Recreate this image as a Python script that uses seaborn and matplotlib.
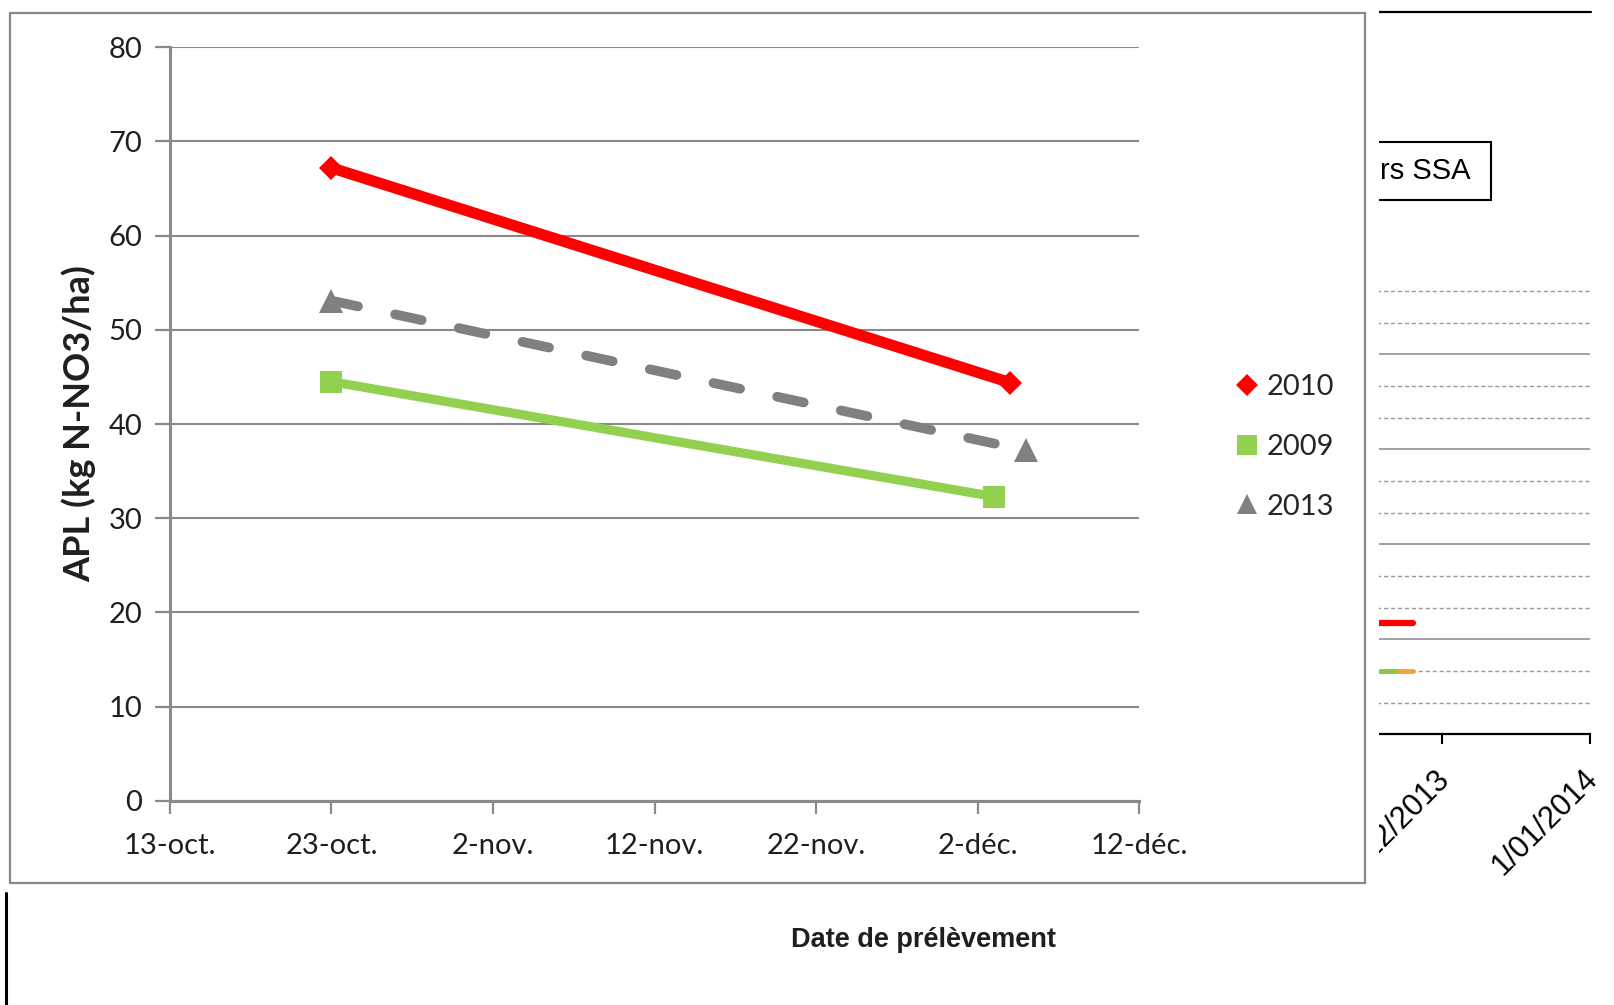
import numpy as np
import pandas as pd
import matplotlib
matplotlib.use("Agg")
import matplotlib.pyplot as plt
import matplotlib.transforms as mtransforms
from matplotlib.lines import Line2D
from matplotlib.patches import Rectangle
import seaborn as sns

# Residual soil nitrate (APL) per campaign, sampling day as month-day
dates_2010 = ["10-23", "12-04"]
apl_2010 = [67.2, 44.4]
dates_2009 = ["10-23", "12-03"]
apl_2009 = [44.5, 32.3]
dates_2013 = ["10-23", "12-05"]
apl_2013 = [53.1, 37.2]
series_names = ["2010", "2009", "2013"]

x_tick_dates = ["10-13", "10-23", "11-02", "11-12", "11-22", "12-02", "12-12"]
x_tick_labels = ["13-oct.", "23-oct.", "2-nov.", "12-nov.", "22-nov.", "2-déc.", "12-déc."]
y_ticks = [0, 10, 20, 30, 40, 50, 60, 70, 80]

# Neighbouring panel (2013 season)
side_dates_red = ["2013-10-20", "2013-11-25"]
side_vals_red = [35, 35]
side_dates_green = ["2013-10-20", "2013-11-22"]
side_vals_green = [20, 20]
side_dates_orange = ["2013-11-22", "2013-11-25"]
side_vals_orange = [20, 20]
side_tick_dates = ["2013-12-01", "2014-01-01"]
side_tick_labels = ["1/12/2013", "1/01/2014"]
side_box_text = "rs SSA"

RED, GREEN, GREY = "#FF0000", "#92D050", "#808080"
GRID = "#8a8a8a"
TXT = "#1f1f1f"

sns.set_theme(style="white")
plt.rcParams["font.family"] = ["Lato", "DejaVu Sans"]

W, H = 1614, 1005
fig = plt.figure(figsize=(W / 100, H / 100), dpi=100)
fig.patch.set_facecolor("white")


def fx(px):
    return px / W


def fy(py):
    return 1 - py / H


def to_date(md):
    return pd.to_datetime(["2000-" + d for d in md])


# ---------------- neighbouring panel (mostly hidden) ----------------
ax2 = fig.add_axes([fx(1202.5), fy(734.3), fx(1590) - fx(1202.5), (734.3 - 281.5) / H], zorder=0)
ax2.set_xlim(pd.Timestamp("2013-10-12"), pd.Timestamp("2014-01-01"))
ax2.set_ylim(0, 143)
ax2.set_yticks([30, 60, 90, 120])
ax2.set_yticks([10, 20, 40, 50, 70, 80, 100, 110, 130, 140], minor=True)
ax2.grid(True, which="major", axis="y", color="#9a9a9a", lw=1.3, ls="-")
ax2.grid(True, which="minor", axis="y", color="#9a9a9a", lw=1.0, ls=(0, (3, 2)))
ax2.tick_params(axis="y", which="both", left=False, labelleft=False)
for s in ["left", "right", "top"]:
    ax2.spines[s].set_visible(False)
ax2.spines["bottom"].set_color("black")
ax2.spines["bottom"].set_linewidth(1.6)
sns.lineplot(x=pd.to_datetime(side_dates_red), y=side_vals_red, ax=ax2, color=RED, lw=4.5,
             solid_capstyle="round")
sns.lineplot(x=pd.to_datetime(side_dates_green), y=side_vals_green, ax=ax2, color="#8CC63F", lw=3.5)
sns.lineplot(x=pd.to_datetime(side_dates_orange), y=side_vals_orange, ax=ax2, color="#F7A03C", lw=3.5,
             solid_capstyle="round")
ax2.set_xticks(pd.to_datetime(side_tick_dates))
ax2.set_xticklabels(side_tick_labels)
ax2.tick_params(axis="x", direction="out", length=7, width=1.5, color="black", pad=14,
                labelsize=22, labelcolor="black", bottom=True)
shift = mtransforms.ScaledTranslation(-7 / 100, 0, fig.dpi_scale_trans)
for lbl in ax2.get_xticklabels():
    lbl.set_rotation(45)
    lbl.set_ha("right")
    lbl.set_va("top")
    lbl.set_rotation_mode("anchor")
    lbl.set_family(["Liberation Sans", "DejaVu Sans"])
    lbl.set_transform(lbl.get_transform() + shift)
ax2.set_xlabel("")
ax2.set_ylabel("")
ax2.patch.set_visible(False)

fig.add_artist(Rectangle((fx(1300), fy(200)), fx(1490.7) - fx(1300), (200 - 141.7) / H,
                         transform=fig.transFigure, fc="white", ec="black", lw=1.5, zorder=0.5))
fig.text(fx(1470), fy(171), side_box_text, ha="right", va="center", fontsize=21,
         family=["Liberation Sans", "DejaVu Sans"], color="black", zorder=0.6)
fig.add_artist(Line2D([fx(1379), fx(1591)], [fy(12.4), fy(12.4)], color="black", lw=1.6, zorder=0.5))

# white gap and frame of the main chart
fig.add_artist(Rectangle((fx(1340), 0), fx(1379) - fx(1340), 1, transform=fig.transFigure,
                         fc="white", ec="none", zorder=1))
fig.add_artist(Rectangle((fx(10.3), fy(883.1)), fx(1365) - fx(10.3), (883.1 - 13.4) / H,
                         transform=fig.transFigure, fc="white", ec=GRID, lw=1.6, zorder=1.1))

# ---------------- main chart ----------------
left, right, top, bottom = 169.8, 1139.4, 47.3, 800.8
ax = fig.add_axes([fx(left), fy(bottom), fx(right) - fx(left), (bottom - top) / H], zorder=2)
ax.patch.set_visible(False)

sns.lineplot(x=to_date(dates_2010), y=apl_2010, ax=ax, color=RED, lw=8.0,
             marker="D", markersize=12, markeredgewidth=0, markerfacecolor=RED)
sns.lineplot(x=to_date(dates_2009), y=apl_2009, ax=ax, color=GREEN, lw=6.6,
             marker="s", markersize=15.5, markeredgewidth=0, markerfacecolor=GREEN)
sns.lineplot(x=to_date(dates_2013), y=apl_2013, ax=ax, color=GREY, lw=7.0,
             marker="^", markersize=17, markeredgewidth=0, markerfacecolor=GREY)
grey_line = ax.lines[-1]
grey_line.set_dashes((2.8, 3.9))
grey_line.set_dash_capstyle("round")

ax.set_xlim(to_date(["10-13"])[0], to_date(["12-12"])[0])
ax.set_ylim(0, 80)
ax.set_xticks(to_date(x_tick_dates))
ax.set_xticklabels(x_tick_labels)
ax.set_yticks(y_ticks)
ax.set_yticklabels([str(v) for v in y_ticks])
ax.grid(True, axis="y", color=GRID, lw=1.5)
ax.grid(False, axis="x")
ax.set_axisbelow(True)
for s in ["top", "right"]:
    ax.spines[s].set_visible(False)
for s in ["left", "bottom"]:
    ax.spines[s].set_color(GRID)
    ax.spines[s].set_linewidth(2.2)
ax.tick_params(axis="y", direction="out", length=11, width=1.6, color=GRID, pad=9,
               labelsize=21, labelcolor=TXT, left=True)
ax.tick_params(axis="x", direction="out", length=9, width=1.6, color=GRID, pad=14,
               labelsize=21, labelcolor=TXT, bottom=True)
ax.set_xlabel("")
ax.set_ylabel("APL (kg N-NO3/ha)", fontsize=26, fontweight="bold", color=TXT)
ax.yaxis.set_label_coords((96 - left) / (right - left), 0.5)

handles = [
    Line2D([], [], ls="none", marker="D", markersize=11, color=RED, markeredgewidth=0),
    Line2D([], [], ls="none", marker="s", markersize=15, color=GREEN, markeredgewidth=0),
    Line2D([], [], ls="none", marker="^", markersize=14, color=GREY, markeredgewidth=0),
]
fig.legend(handles, series_names, loc="center left", bbox_to_anchor=(fx(1235), fy(447)),
           frameon=False, fontsize=21, handlelength=0.8, handletextpad=0.3,
           labelspacing=1.15, borderpad=0, borderaxespad=0)

fig.text(fx(924), fy(940), "Date de prélèvement", ha="center", va="center", fontsize=19.5,
         fontweight="bold", family=["Liberation Sans", "DejaVu Sans"], color=TXT, zorder=3)
fig.add_artist(Line2D([fx(6), fx(6)], [fy(893), 0], color="black", lw=2.2, zorder=3))

fig.savefig("out.png", dpi=100, facecolor="white")
